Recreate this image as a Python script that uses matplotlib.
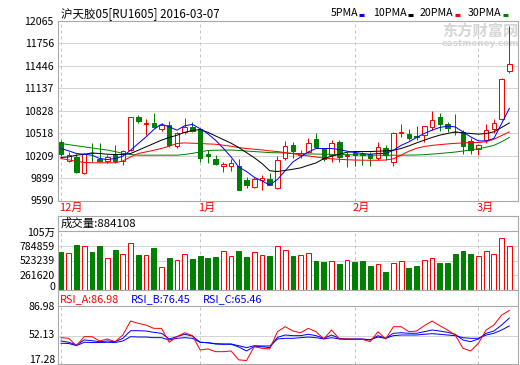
import matplotlib
matplotlib.use('Agg')
import matplotlib.pyplot as plt
import matplotlib.transforms as mtransforms
from matplotlib.lines import Line2D
import numpy as np

plt.rcParams['font.family'] = ['Noto Sans CJK SC', 'DejaVu Sans']

# ---------------- data ----------------
title = "沪天胶05[RU1605] 2016-03-07"
month_labels = ["12月", "1月", "2月", "3月"]
month_index = [0, 18, 38, 54]

opens = [10390, 10140, 10183, 9975, 10250, 10169, 10131, 10215, 10131, 10283,
         10735, 10643, 10652, 10569, 10629, 10343, 10528, 10600, 10570, 10238,
         10159, 10059, 10059, 10062, 9870, 9770, 9870, 9880, 9768, 10170,
         10352, 10220, 10260, 10432, 10305, 10215, 10398, 10200, 10240, 10230,
         10225, 10170, 10320, 10122, 10520, 10510, 10480, 10490, 10597, 10735,
         10643, 10538, 10536, 10410, 10305, 10422, 10570, 10708, 11378]
closes = [10225, 10215, 9984, 10238, 10240, 10131, 10191, 10131, 10270, 10735,
          10688, 10652, 10597, 10629, 10352, 10514, 10597, 10550, 10170, 10210,
          10100, 10090, 10108, 9740, 9810, 9893, 9905, 9810, 10155, 10348,
          10270, 10240, 10376, 10330, 10169, 10385, 10190, 10215, 10215, 10215,
          10180, 10330, 10215, 10514, 10540, 10445, 10460, 10615, 10698, 10640,
          10583, 10530, 10340, 10293, 10352, 10560, 10652, 11260, 11466]
highs = [10420, 10260, 10238, 10250, 10376, 10376, 10215, 10352, 10290, 10740,
         10767, 10710, 10799, 10660, 10688, 10540, 10722, 10674, 10590, 10283,
         10215, 10122, 10158, 10160, 9915, 9920, 9938, 9970, 10200, 10412,
         10398, 10290, 10445, 10514, 10310, 10420, 10420, 10260, 10260, 10260,
         10260, 10400, 10350, 10537, 10650, 10580, 10620, 10615, 10825, 10790,
         10670, 10780, 10560, 10450, 10375, 10650, 10720, 11280, 11990]
lows = [10210, 10120, 9970, 9952, 10122, 10122, 10108, 10110, 10076, 10270,
        10652, 10490, 10583, 10555, 10330, 10320, 10510, 10540, 10122, 10108,
        10076, 9984, 10000, 9735, 9763, 9760, 9731, 9800, 9755, 10150,
        10170, 10170, 10240, 10320, 10130, 10122, 10120, 10050, 10070, 10075,
        10070, 10145, 10150, 10065, 10470, 10420, 10420, 10400, 10560, 10555,
        10530, 10500, 10238, 10230, 10215, 10376, 10520, 10700, 11350]

ma5 = [10307, 10274, 10238, 10228, 10215, 10169, 10155, 10169, 10200, 10283,
       10376, 10467, 10569, 10643, 10605, 10560, 10620, 10640, 10580, 10510,
       10420, 10310, 10190, 10050, 9990, 9910, 9860, 9805, 9880, 10000,
       10122, 10191, 10260, 10307, 10307, 10307, 10293, 10270, 10252, 10238,
       10228, 10238, 10238, 10283, 10350, 10398, 10459, 10514, 10560, 10597,
       10615, 10605, 10536, 10467, 10412, 10412, 10445, 10652, 10860]
ma10 = [10183, 10191, 10215, 10228, 10246, 10238, 10228, 10224, 10224, 10238,
        10283, 10330, 10376, 10422, 10459, 10490, 10530, 10555, 10569, 10530,
        10480, 10430, 10380, 10320, 10250, 10180, 10100, 10000, 9990, 10005,
        10021, 10040, 10076, 10108, 10169, 10200, 10228, 10256, 10265, 10265,
        10265, 10270, 10274, 10283, 10307, 10343, 10384, 10422, 10459, 10491,
        10514, 10536, 10522, 10514, 10505, 10514, 10536, 10597, 10660]
ma20 = [10169, 10150, 10130, 10115, 10110, 10110, 10110, 10110, 10136, 10191,
        10238, 10260, 10283, 10307, 10340, 10376, 10384, 10380, 10376, 10370,
        10366, 10352, 10338, 10320, 10307, 10297, 10288, 10274, 10265, 10250,
        10235, 10220, 10205, 10190, 10175, 10165, 10158, 10152, 10148, 10146,
        10145, 10145, 10148, 10165, 10215, 10270, 10310, 10335, 10350, 10360,
        10370, 10378, 10384, 10388, 10390, 10400, 10435, 10485, 10536]
ma30 = [10376, 10360, 10345, 10330, 10315, 10300, 10285, 10265, 10240, 10225,
        10215, 10215, 10215, 10215, 10215, 10215, 10225, 10240, 10260, 10280,
        10283, 10285, 10285, 10280, 10272, 10265, 10258, 10250, 10248, 10245,
        10240, 10236, 10232, 10230, 10228, 10226, 10224, 10222, 10220, 10218,
        10216, 10215, 10214, 10214, 10215, 10216, 10218, 10222, 10230, 10238,
        10248, 10258, 10272, 10288, 10305, 10325, 10350, 10400, 10459]

volume = [676, 653, 801, 778, 676, 783, 564, 712, 641, 831,
          623, 623, 742, 404, 570, 534, 641, 552, 605, 570,
          587, 688, 605, 694, 587, 670, 623, 605, 783, 712,
          605, 623, 659, 516, 504, 510, 468, 528, 504, 516,
          427, 463, 326, 475, 510, 392, 427, 528, 564, 486,
          486, 646, 694, 646, 605, 694, 646, 920, 783]  # thousands

rsi_a = [49.1, 48.2, 37.9, 50.5, 50.5, 44.5, 47.3, 43.5, 52.8, 72.3,
         69.1, 66.7, 62.1, 62.1, 42.7, 50.5, 56.0, 51.9, 32.0, 33.4,
         29.6, 29.6, 30.6, 18.1, 17.28, 36.6, 34.3, 33.4, 57.4, 64.4,
         58.4, 56.0, 62.1, 57.4, 47.3, 59.8, 47.3, 47.3, 46.8, 46.8,
         43.5, 57.4, 47.3, 64.4, 64.4, 57.4, 58.4, 65.8, 72.3, 65.8,
         59.8, 52.8, 34.3, 30.6, 41.3, 59.8, 66.7, 80.6, 86.98]
rsi_b = [44.5, 42.7, 38.9, 45.9, 44.9, 43.5, 44.5, 43.5, 48.2, 58.8,
         58.8, 58.4, 56.6, 55.2, 47.3, 50.5, 53.8, 51.4, 42.7, 42.1,
         40.3, 39.9, 39.9, 36.1, 30.6, 36.6, 36.6, 35.2, 49.6, 52.8,
         51.9, 51.9, 53.8, 51.9, 48.2, 52.8, 48.2, 47.3, 47.3, 47.3,
         45.9, 51.9, 48.2, 55.2, 56.0, 55.2, 55.2, 57.4, 59.8, 58.4,
         56.6, 53.8, 45.9, 43.5, 47.3, 55.2, 58.4, 66.7, 76.45]
rsi_c = [41.3, 41.0, 37.9, 42.7, 42.3, 42.3, 42.7, 42.3, 44.5, 50.5,
         50.0, 50.0, 49.1, 49.1, 45.9, 48.2, 49.1, 48.2, 42.7, 42.0,
         40.7, 40.3, 40.3, 37.9, 35.2, 37.9, 37.5, 37.5, 47.3, 48.2,
         48.2, 49.1, 50.0, 49.1, 47.3, 49.1, 47.3, 46.8, 46.8, 46.8,
         46.4, 50.0, 48.2, 51.9, 52.8, 52.8, 52.8, 53.8, 54.7, 53.8,
         52.8, 51.9, 49.1, 48.2, 48.2, 52.8, 55.2, 59.8, 65.46]

price_ticks = [9590, 9899, 10209, 10518, 10828, 11137, 11446, 11756, 12065]
vol_ticks = [0, 261620, 523239, 784859, 1046478]
vol_tick_labels = ["0", "261620", "523239", "784859", "105万"]
rsi_ticks = [17.28, 52.13, 86.98]
vol_header = "成交量:884108"
rsi_header = [("RSI_A:86.98", "#FF0000"), ("RSI_B:76.45", "#0000FF"), ("RSI_C:65.46", "#0000FF")]
legend_items = [("5PMA", "#0000FF"), ("10PMA", "#000000"), ("20PMA", "#FF0000"), ("30PMA", "#008000")]

# ---------------- style ----------------
RED = "#FF0000"
GREEN = "#008000"
BLUE = "#0000FF"
FRAME = "#A8A8A8"
GRID = "#D4D4D4"
VGRID = "#C4C4C4"
FS = 7.6
W, H = 520, 365

fig = plt.figure(figsize=(W / 100, H / 100), dpi=100)
fig.patch.set_facecolor("white")


def rect(x0, y0, x1, y1):
    return [x0 / W, 1 - y1 / H, (x1 - x0) / W, (y1 - y0) / H]


def fx(px):
    return px / W


def fy(py):
    return 1 - py / H


n = len(closes)
x = np.arange(n)
o = np.array(opens, float)
c = np.array(closes, float)
hi = np.array(highs, float)
lo = np.array(lows, float)
up = c >= o
edge = np.where(up, RED, GREEN)
face = np.where(up, "white", GREEN)
XLIM = (-0.39, 59.12)
LW = 0.72


def style_axes(ax):
    ax.set_xlim(*XLIM)
    ax.set_xticks([])
    for s in ax.spines.values():
        s.set_color(FRAME)
        s.set_linewidth(0.8)
    ax.tick_params(axis="y", length=0, pad=3, labelsize=FS, colors="black")
    ax.set_facecolor("white")


def month_lines(ax, y0=None, y1=None):
    for mi in month_index:
        if y0 is None:
            ax.axvline(mi, color=VGRID, lw=LW, ls=(0, (3, 3)), zorder=1)
        else:
            ax.vlines(mi, y0, y1, color=VGRID, lw=LW, ls=(0, (3, 3)), zorder=1)


# ---------------- main price panel ----------------
ax = fig.add_axes(rect(58, 21, 518, 200.5))
style_axes(ax)
ax.set_ylim(9590, 12065)
ax.set_yticks(price_ticks)
ax.set_yticklabels([str(t) for t in price_ticks])
for t in price_ticks[1:-1]:
    ax.axhline(t, color=GRID, lw=LW, zorder=1)
month_lines(ax)

ax.vlines(x, lo, np.minimum(o, c), colors=edge, lw=LW, zorder=3)
ax.vlines(x, np.maximum(o, c), hi, colors=edge, lw=LW, zorder=3)
ax.bar(x, np.abs(c - o), bottom=np.minimum(o, c), width=0.58, color=face,
       edgecolor=edge, linewidth=LW, zorder=4)

ax.plot(x, ma30, color=GREEN, lw=LW, zorder=5)
ax.plot(x, ma20, color=RED, lw=LW, zorder=5)
ax.plot(x, ma10, color="black", lw=LW, zorder=5)
ax.plot(x, ma5, color=BLUE, lw=LW, zorder=5)

# watermark
ax.text(0.835, 0.992, "东方财富网", transform=ax.transAxes, fontsize=11,
        fontweight="bold", color="#D6D6D6", ha="left", va="top", zorder=0)
ax.text(0.835, 0.898, "eastmoney.com", transform=ax.transAxes, fontsize=6.3,
        fontweight="bold", color="#D6D6D6", ha="left", va="top", zorder=0,
        family=["DejaVu Sans"])

# header
fig.text(fx(61), fy(13.5), title, fontsize=8.3, ha="left", va="center")
xpos = [331, 373, 420, 468]
for (lab, col), xp in zip(legend_items, xpos):
    fig.text(fx(xp), fy(13.5), lab, fontsize=7.6, ha="left", va="center")
    lx = xp + (28 if lab == "5PMA" else 35)
    fig.add_artist(Line2D([fx(lx), fx(lx + 5)], [fy(14.5), fy(14.5)],
                          transform=fig.transFigure, color=col, lw=2.2,
                          solid_capstyle="butt"))

# month labels
for lab, mi in zip(month_labels, month_index):
    xp = 61 + 7.73 * mi
    fig.text(fx(xp - 2), fy(207.5), lab, fontsize=8, color=RED, ha="left", va="center")

# ---------------- volume panel ----------------
VTOP = 1046478
axv = fig.add_axes(rect(58, 216, 518, 290))
style_axes(axv)
axv.set_ylim(0, VTOP * 74 / 59)
axv.set_yticks([])
axv.axhline(VTOP, color=FRAME, lw=0.8, zorder=2)
for t in vol_ticks[1:-1]:
    axv.axhline(t, color=GRID, lw=LW, zorder=1)
month_lines(axv, 0, VTOP)
vol = np.array(volume, float) * 1000
axv.bar(x, vol, width=0.62, color=face, edgecolor=edge, linewidth=LW, zorder=3)
axv.text(0.006, (VTOP + (VTOP * 74 / 59 - VTOP) / 2) / (VTOP * 74 / 59),
         vol_header, transform=axv.transAxes, fontsize=8.2, ha="left", va="center")
ytr = axv.get_yaxis_transform()
offs = {0: 3.5, VTOP: -2.0}
for t, lab in zip(vol_ticks, vol_tick_labels):
    tr = ytr + mtransforms.ScaledTranslation(-3 / 100, offs.get(t, -0.8) / 100, fig.dpi_scale_trans)
    axv.text(0, t, lab, transform=tr, fontsize=FS, ha="right", va="center")

# ---------------- RSI panel ----------------
axr = fig.add_axes(rect(58, 290, 518, 364))
style_axes(axr)
k = 1.394
rlo = 52.13 - 28.5 * k
rhi = 52.13 + 45.5 * k
axr.set_ylim(rlo, rhi)
axr.set_yticks([])
sep = 52.13 + 29.5 * k
axr.axhline(sep, color=FRAME, lw=0.8, zorder=2)
axr.axhline(52.13, color=GRID, lw=LW, zorder=1)
month_lines(axr, rlo, sep)
axr.plot(x, rsi_c, color=BLUE, lw=LW, zorder=3)
axr.plot(x, rsi_b, color=BLUE, lw=LW, zorder=3)
axr.plot(x, rsi_a, color=RED, lw=LW, zorder=4)
ytr = axr.get_yaxis_transform()
roffs = {86.98: 3.5, 52.13: 0, 17.28: 0.3}
for t in rsi_ticks:
    tr = ytr + mtransforms.ScaledTranslation(-3 / 100, roffs[t] / 100, fig.dpi_scale_trans)
    axr.text(0, t, f"{t:.2f}", transform=tr, fontsize=FS, ha="right", va="center")
hx = [60, 131, 203]
for (lab, col), xp in zip(rsi_header, hx):
    fig.text(fx(xp), fy(299.5), lab, fontsize=7.8, color=col, ha="left", va="center")

fig.savefig("out.png", dpi=100, facecolor="white")
